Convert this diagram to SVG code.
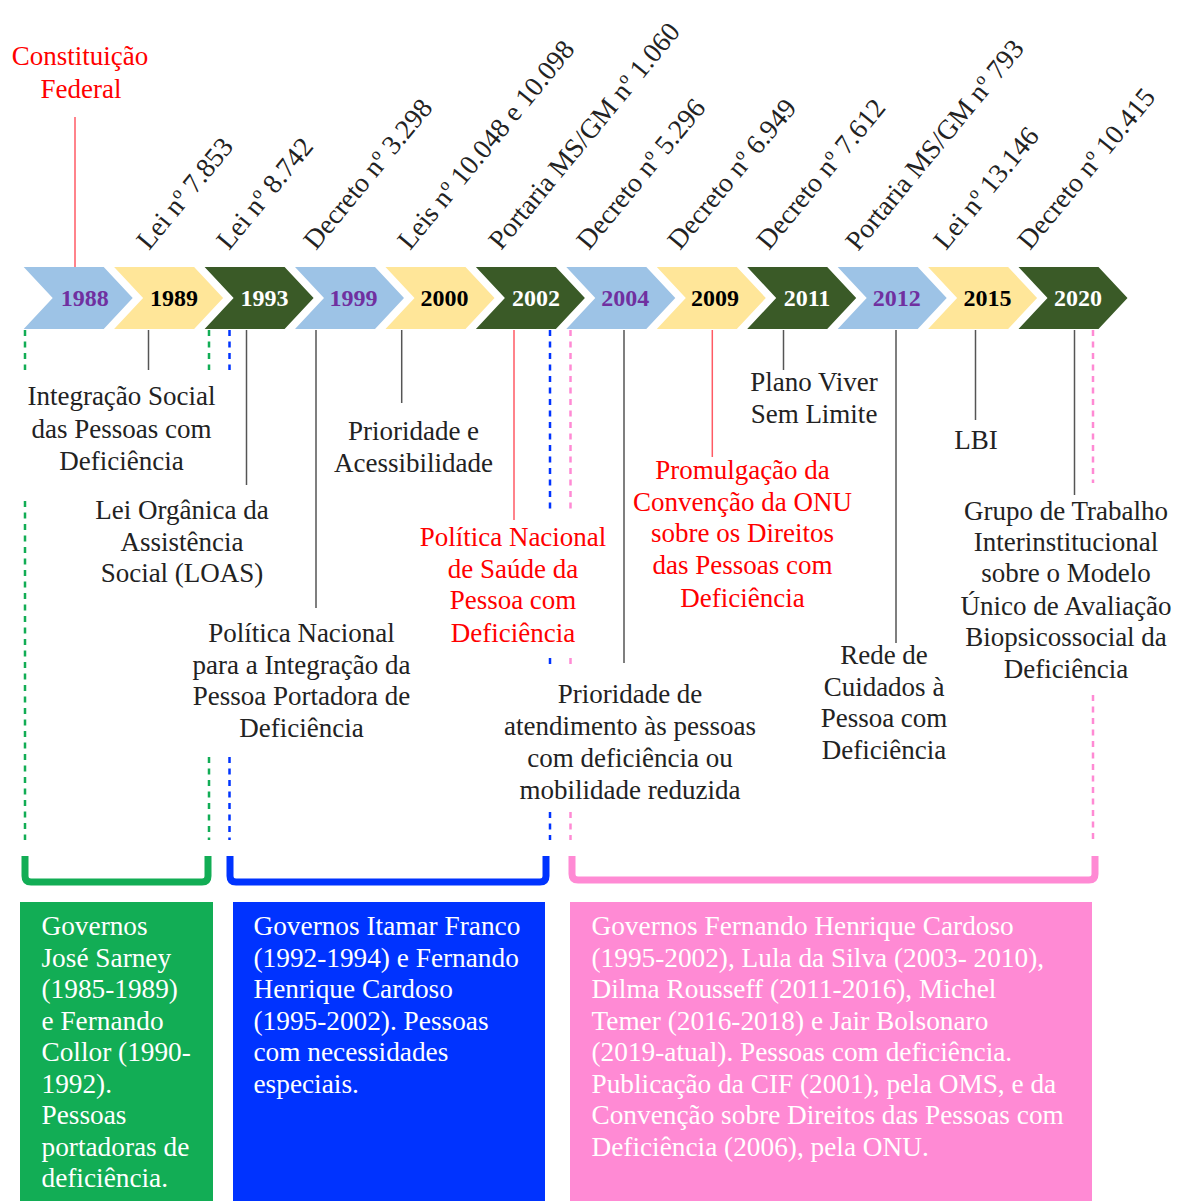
<svg xmlns="http://www.w3.org/2000/svg" xmlns:xlink="http://www.w3.org/1999/xlink" width="1179" height="1201" viewBox="0 0 1179 1201">
<defs>
<style>
text{font-family:"Liberation Serif","Times New Roman",serif}
.lbl{font-size:27px;fill:#222;text-anchor:middle}
.red{font-size:27px;fill:#FF0000;text-anchor:middle}
.rot{font-size:27.5px;fill:#222}
.yr{font-size:24px;font-weight:bold;text-anchor:middle}
.box{font-size:27.3px;fill:#FFFFFF}
.cb{fill:#9DC3E6}.cy{fill:#FFE699}.cg{fill:#3A5A27}
.tp{fill:#7030A0}.tk{fill:#000}.tw{fill:#FFF}
.ln{stroke:#555;stroke-width:1.5;fill:none}
.lr{stroke:#FF5A64;stroke-width:1.5;fill:none}
.dg{stroke:#12AD55;stroke-width:2.5;stroke-dasharray:6 5.5;fill:none}
.db{stroke:#0033FF;stroke-width:2.5;stroke-dasharray:6 5.5;fill:none}
.dp{stroke:#FF8AD4;stroke-width:2.5;stroke-dasharray:6 5.5;fill:none}
.brg{stroke:#12AD55;stroke-width:7;fill:none}
.brb{stroke:#0033FF;stroke-width:7;fill:none}
.brp{stroke:#FF8AD4;stroke-width:7;fill:none}
</style>
<path id="chev" d="M0,267 H80 L109,298 L80,329 H0 L29,298 Z"/>
</defs>
<rect width="1179" height="1201" fill="#FFFFFF"/>

<g id="chevrons">
<g id="y1988"><use xlink:href="#chev" x="23.7" class="cb"/><text class="yr tp" x="84.7" y="306">1988</text></g>
<g id="y1989"><use xlink:href="#chev" x="114.1" class="cy"/><text class="yr tk" x="174.1" y="306">1989</text></g>
<g id="y1993"><use xlink:href="#chev" x="204.6" class="cg"/><text class="yr tw" x="264.6" y="306">1993</text></g>
<g id="y1999"><use xlink:href="#chev" x="295" class="cb"/><text class="yr tp" x="353.5" y="306">1999</text></g>
<g id="y2000"><use xlink:href="#chev" x="385.5" class="cy"/><text class="yr tk" x="444.5" y="306">2000</text></g>
<g id="y2002"><use xlink:href="#chev" x="475.9" class="cg"/><text class="yr tw" x="535.9" y="306">2002</text></g>
<g id="y2004"><use xlink:href="#chev" x="566.3" class="cb"/><text class="yr tp" x="625.3" y="306">2004</text></g>
<g id="y2009"><use xlink:href="#chev" x="656.8" class="cy"/><text class="yr tk" x="715" y="306">2009</text></g>
<g id="y2011"><use xlink:href="#chev" x="747.2" class="cg"/><text class="yr tw" x="807" y="306">2011</text></g>
<g id="y2012"><use xlink:href="#chev" x="837.7" class="cb"/><text class="yr tp" x="896.7" y="306">2012</text></g>
<g id="y2015"><use xlink:href="#chev" x="928.1" class="cy"/><text class="yr tk" x="987.6" y="306">2015</text></g>
<g id="y2020"><use xlink:href="#chev" x="1018.5" class="cg"/><text class="yr tw" x="1078" y="306">2020</text></g>
</g>

<g id="connectors">
<path class="lr" d="M75,117 V267"/>
<path class="ln" d="M148.5,330 V370"/>
<path class="ln" d="M246.5,330 V485"/>
<path class="ln" d="M316,330 V608"/>
<path class="ln" d="M401.7,330 V403"/>
<path class="lr" d="M514,330 V520"/>
<path class="ln" d="M624,330 V663"/>
<path class="lr" d="M712.3,330 V457"/>
<path class="ln" d="M783.5,330 V370"/>
<path class="ln" d="M896,330 V643"/>
<path class="ln" d="M975.5,330 V420"/>
<path class="ln" d="M1074.5,330 V495"/>
<path class="dg" d="M25,330 V370 M25,501 V840"/>
<path class="dg" d="M209,330 V370 M209,757 V840"/>
<path class="db" d="M229.5,330 V370 M229.5,757 V840"/>
<path class="db" d="M550,330 V512 M550,658 V668 M550,812 V840"/>
<path class="dp" d="M570.5,330 V512 M570.5,658 V668 M570.5,812 V840"/>
<path class="dp" d="M1093,330 V483 M1093,695 V840"/>
<path class="brg" d="M25,856 V876 Q25,882 31,882 H202 Q208,882 208,876 V856"/>
<path class="brb" d="M230,856 V876 Q230,882 236,882 H540 Q546,882 546,876 V856"/>
<path class="brp" d="M572,856 V874 Q572,880 578,880 H1089 Q1095,880 1095,874 V856"/>
</g>

<g id="top-labels">
<g id="constituicao"><text class="red" x="80" y="65">Constituição</text><text class="red" x="81" y="98">Federal</text></g>
<text id="t-lei7853" class="rot" transform="translate(149,251) rotate(-50.5)">Lei nº 7.853</text>
<text id="t-lei8742" class="rot" transform="translate(229,251) rotate(-50.5)">Lei nº 8.742</text>
<text id="t-dec3298" class="rot" transform="translate(316,251) rotate(-50.5)">Decreto nº 3.298</text>
<text id="t-leis10048" class="rot" transform="translate(410,251) rotate(-50.5)">Leis nº 10.048 e 10.098</text>
<text id="t-port1060" class="rot" transform="translate(501,251) rotate(-50.5)">Portaria MS/GM nº 1.060</text>
<text id="t-dec5296" class="rot" transform="translate(589,251) rotate(-50.5)">Decreto nº 5.296</text>
<text id="t-dec6949" class="rot" transform="translate(680,251) rotate(-50.5)">Decreto nº 6.949</text>
<text id="t-dec7612" class="rot" transform="translate(769,251) rotate(-50.5)">Decreto nº 7.612</text>
<text id="t-port793" class="rot" transform="translate(858,252) rotate(-50.5)">Portaria MS/GM nº 793</text>
<text id="t-lei13146" class="rot" transform="translate(946,251) rotate(-50.5)">Lei nº 13.146</text>
<text id="t-dec10415" class="rot" transform="translate(1030,251) rotate(-50.5)">Decreto nº 10.415</text>
</g>

<g id="n-integracao"><text class="lbl" x="121.5" y="405">Integração Social</text><text class="lbl" x="121.5" y="437.5">das Pessoas com</text><text class="lbl" x="121.5" y="470">Deficiência</text></g>
<g id="n-loas"><text class="lbl" x="182" y="519">Lei Orgânica da</text><text class="lbl" x="182" y="551">Assistência</text><text class="lbl" x="182" y="582">Social (LOAS)</text></g>
<g id="n-pnipd"><text class="lbl" x="301.5" y="642">Política Nacional</text><text class="lbl" x="301.5" y="673.5">para a Integração da</text><text class="lbl" x="301.5" y="705">Pessoa Portadora de</text><text class="lbl" x="301.5" y="737">Deficiência</text></g>
<g id="n-prioridade"><text class="lbl" x="413.5" y="439.5">Prioridade e</text><text class="lbl" x="413.5" y="471.5">Acessibilidade</text></g>
<g id="n-pnspd"><text class="red" x="513" y="545.5">Política Nacional</text><text class="red" x="513" y="577.5">de Saúde da</text><text class="red" x="513" y="609">Pessoa com</text><text class="red" x="513" y="641.5">Deficiência</text></g>
<g id="n-atendimento"><text class="lbl" x="630" y="703">Prioridade de</text><text class="lbl" x="630" y="735">atendimento às pessoas</text><text class="lbl" x="630" y="767">com deficiência ou</text><text class="lbl" x="630" y="798.5">mobilidade reduzida</text></g>
<g id="n-convencao"><text class="red" x="742.5" y="478.5">Promulgação da</text><text class="red" x="742.5" y="510.5">Convenção da ONU</text><text class="red" x="742.5" y="542">sobre os Direitos</text><text class="red" x="742.5" y="574">das Pessoas com</text><text class="red" x="742.5" y="606.5">Deficiência</text></g>
<g id="n-plano"><text class="lbl" x="814" y="391">Plano Viver</text><text class="lbl" x="814" y="423">Sem Limite</text></g>
<g id="n-rede"><text class="lbl" x="884" y="664">Rede de</text><text class="lbl" x="884" y="696">Cuidados à</text><text class="lbl" x="884" y="727">Pessoa com</text><text class="lbl" x="884" y="759">Deficiência</text></g>
<g id="n-lbi"><text class="lbl" x="976" y="448.5">LBI</text></g>
<g id="n-grupo"><text class="lbl" x="1066" y="519.5">Grupo de Trabalho</text><text class="lbl" x="1066" y="551">Interinstitucional</text><text class="lbl" x="1066" y="582">sobre o Modelo</text><text class="lbl" x="1066" y="614.5">Único de Avaliação</text><text class="lbl" x="1066" y="645.5">Biopsicossocial da</text><text class="lbl" x="1066" y="678">Deficiência</text></g>

<g id="box-green">
<rect x="20" y="902" width="193" height="300" fill="#12AD55"/>
<text class="box" x="41.5" y="935">Governos</text>
<text class="box" x="41.5" y="966.5">José Sarney</text>
<text class="box" x="41.5" y="998">(1985-1989)</text>
<text class="box" x="41.5" y="1029.5">e Fernando</text>
<text class="box" x="41.5" y="1061">Collor (1990-</text>
<text class="box" x="41.5" y="1092.5">1992).</text>
<text class="box" x="41.5" y="1124">Pessoas</text>
<text class="box" x="41.5" y="1155.5">portadoras de</text>
<text class="box" x="41.5" y="1187">deficiência.</text>
</g>
<g id="box-blue">
<rect x="233" y="902" width="312" height="300" fill="#0033FF"/>
<text class="box" x="253.5" y="935">Governos Itamar Franco</text>
<text class="box" x="253.5" y="966.5">(1992-1994) e Fernando</text>
<text class="box" x="253.5" y="998">Henrique Cardoso</text>
<text class="box" x="253.5" y="1029.5">(1995-2002). Pessoas</text>
<text class="box" x="253.5" y="1061">com necessidades</text>
<text class="box" x="253.5" y="1092.5">especiais.</text>
</g>
<g id="box-pink">
<rect x="570" y="902" width="522" height="300" fill="#FF8AD4"/>
<text class="box" x="591.5" y="935">Governos Fernando Henrique Cardoso</text>
<text class="box" x="591.5" y="966.5">(1995-2002), Lula da Silva (2003- 2010),</text>
<text class="box" x="591.5" y="998">Dilma Rousseff (2011-2016), Michel</text>
<text class="box" x="591.5" y="1029.5">Temer (2016-2018) e Jair Bolsonaro</text>
<text class="box" x="591.5" y="1061">(2019-atual). Pessoas com deficiência.</text>
<text class="box" x="591.5" y="1092.5">Publicação da CIF (2001), pela OMS, e da</text>
<text class="box" x="591.5" y="1124">Convenção sobre Direitos das Pessoas com</text>
<text class="box" x="591.5" y="1155.5">Deficiência (2006), pela ONU.</text>
</g>
</svg>
